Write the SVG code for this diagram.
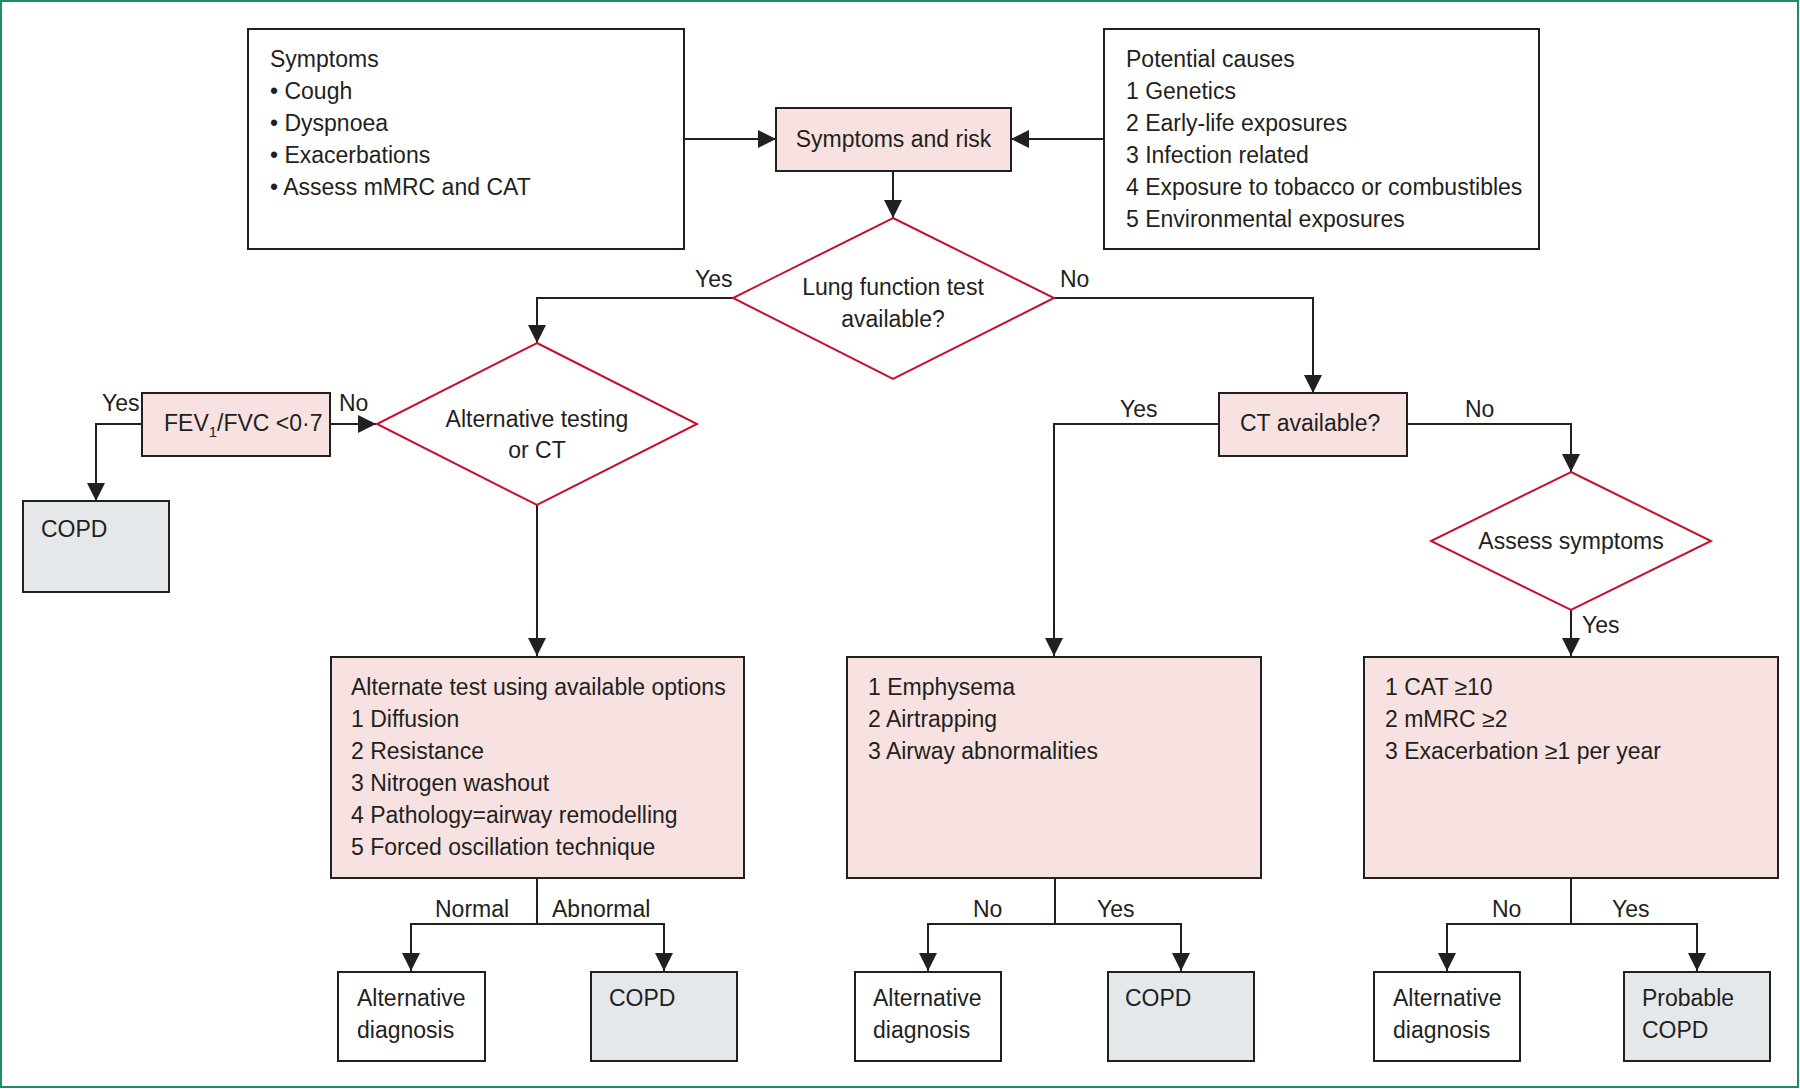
<svg xmlns="http://www.w3.org/2000/svg" width="1800" height="1089" viewBox="0 0 1800 1089">
<defs>
<marker id="arr" markerUnits="userSpaceOnUse" markerWidth="18" markerHeight="18" refX="18" refY="9" orient="auto" viewBox="0 0 18 18">
<path d="M0,0 L18,9 L0,18 z" fill="#231f20"/>
</marker>
<style>
text{font-family:"Liberation Sans",Arial,sans-serif;font-size:23px;fill:#231f20}
.box{fill:#fff;stroke:#231f20;stroke-width:2}
.pink{fill:#f7e2e1;stroke:#231f20;stroke-width:2}
.grey{fill:#e5e8eb;stroke:#231f20;stroke-width:2}
.dia{fill:#fff;stroke:#c8102e;stroke-width:2}
.c{text-anchor:middle}
#connectors path{fill:none;stroke:#231f20;stroke-width:2}
.arr{marker-end:url(#arr)}
</style>
</defs>
<rect x="0" y="0" width="1800" height="1089" fill="#fff"/>
<rect x="1" y="1" width="1797" height="1086" fill="none" stroke="#1f8f5f" stroke-width="2"/>

<g id="connectors">
<path class="arr" d="M684,139 H776"/>
<path class="arr" d="M1104,139 H1011"/>
<path class="arr" d="M893,171 V218"/>
<path class="arr" d="M733,298 H537 V343"/>
<path class="arr" d="M1054,298 H1313 V393"/>
<path class="arr" d="M142,424 H96 V501"/>
<path class="arr" d="M330,424 H376"/>
<path class="arr" d="M537,505 V656"/>
<path class="arr" d="M1219,424 H1054 V656"/>
<path class="arr" d="M1407,424 H1571 V472"/>
<path class="arr" d="M1571,610 V656"/>
<path d="M537,878 V924"/>
<path class="arr" d="M537,924 H411 V971"/>
<path class="arr" d="M537,924 H664 V971"/>
<path d="M1055,878 V924"/>
<path class="arr" d="M1055,924 H928 V971"/>
<path class="arr" d="M1055,924 H1181 V971"/>
<path d="M1571,878 V924"/>
<path class="arr" d="M1571,924 H1447 V971"/>
<path class="arr" d="M1571,924 H1697 V971"/>
<text x="695" y="287">Yes</text>
<text x="1060" y="287">No</text>
<text x="102" y="411">Yes</text>
<text x="339" y="411">No</text>
<text x="1120" y="417">Yes</text>
<text x="1465" y="417">No</text>
<text x="1582" y="633">Yes</text>
<text x="435" y="917">Normal</text>
<text x="552" y="917">Abnormal</text>
<text x="973" y="917">No</text>
<text x="1097" y="917">Yes</text>
<text x="1492" y="917">No</text>
<text x="1612" y="917">Yes</text>
</g>

<g id="symptoms">
<rect class="box" x="248" y="29" width="436" height="220"/>
<text x="270" y="67">Symptoms</text>
<text x="270" y="99">• Cough</text>
<text x="270" y="131">• Dyspnoea</text>
<text x="270" y="163">• Exacerbations</text>
<text x="270" y="195">• Assess mMRC and CAT</text>
</g>

<g id="causes">
<rect class="box" x="1104" y="29" width="435" height="220"/>
<text x="1126" y="67">Potential causes</text>
<text x="1126" y="99">1 Genetics</text>
<text x="1126" y="131">2 Early-life exposures</text>
<text x="1126" y="163">3 Infection related</text>
<text x="1126" y="195">4 Exposure to tobacco or combustibles</text>
<text x="1126" y="227">5 Environmental exposures</text>
</g>

<g id="symptoms-risk">
<rect class="pink" x="776" y="108" width="235" height="63"/>
<text class="c" x="893.5" y="147">Symptoms and risk</text>
</g>

<g id="lung-test">
<polygon class="dia" points="893,218 1054,298 893,379 733,298"/>
<text class="c" x="893" y="295">Lung function test</text>
<text class="c" x="893" y="327">available?</text>
</g>

<g id="alt-testing">
<polygon class="dia" points="537,343 697,424 537,505 377,424"/>
<text class="c" x="537" y="427">Alternative testing</text>
<text class="c" x="537" y="458">or CT</text>
</g>

<g id="fev">
<rect class="pink" x="142" y="393" width="188" height="63"/>
<text x="164" y="431">FEV<tspan font-size="15" dy="6">1</tspan><tspan dy="-6">/FVC &lt;0·7</tspan></text>
</g>

<g id="copd-left">
<rect class="grey" x="23" y="501" width="146" height="91"/>
<text x="41" y="537">COPD</text>
</g>

<g id="ct">
<rect class="pink" x="1219" y="393" width="188" height="63"/>
<text x="1240" y="431">CT available?</text>
</g>

<g id="assess">
<polygon class="dia" points="1571,472 1711,541 1571,610 1431,541"/>
<text class="c" x="1571" y="549">Assess symptoms</text>
</g>

<g id="alternate-test">
<rect class="pink" x="331" y="657" width="413" height="221"/>
<text x="351" y="695">Alternate test using available options</text>
<text x="351" y="727">1 Diffusion</text>
<text x="351" y="759">2 Resistance</text>
<text x="351" y="791">3 Nitrogen washout</text>
<text x="351" y="823">4 Pathology=airway remodelling</text>
<text x="351" y="855">5 Forced oscillation technique</text>
</g>

<g id="ct-findings">
<rect class="pink" x="847" y="657" width="414" height="221"/>
<text x="868" y="695">1 Emphysema</text>
<text x="868" y="727">2 Airtrapping</text>
<text x="868" y="759">3 Airway abnormalities</text>
</g>

<g id="symptom-criteria">
<rect class="pink" x="1364" y="657" width="414" height="221"/>
<text x="1385" y="695">1 CAT ≥10</text>
<text x="1385" y="727">2 mMRC ≥2</text>
<text x="1385" y="759">3 Exacerbation ≥1 per year</text>
</g>

<g id="alt-diag-1">
<rect class="box" x="338" y="972" width="147" height="89"/>
<text x="357" y="1006">Alternative</text>
<text x="357" y="1038">diagnosis</text>
</g>
<g id="copd-1">
<rect class="grey" x="591" y="972" width="146" height="89"/>
<text x="609" y="1006">COPD</text>
</g>
<g id="alt-diag-2">
<rect class="box" x="855" y="972" width="146" height="89"/>
<text x="873" y="1006">Alternative</text>
<text x="873" y="1038">diagnosis</text>
</g>
<g id="copd-2">
<rect class="grey" x="1108" y="972" width="146" height="89"/>
<text x="1125" y="1006">COPD</text>
</g>
<g id="alt-diag-3">
<rect class="box" x="1374" y="972" width="146" height="89"/>
<text x="1393" y="1006">Alternative</text>
<text x="1393" y="1038">diagnosis</text>
</g>
<g id="probable-copd">
<rect class="grey" x="1624" y="972" width="146" height="89"/>
<text x="1642" y="1006">Probable</text>
<text x="1642" y="1038">COPD</text>
</g>
</svg>
